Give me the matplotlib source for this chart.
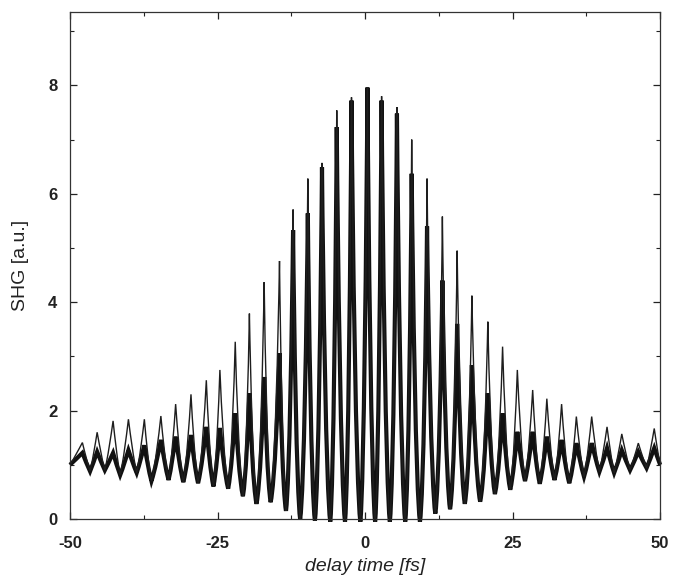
import numpy as np
import matplotlib
matplotlib.use("Agg")
import matplotlib.pyplot as plt
from matplotlib.path import Path
from matplotlib.patches import PathPatch
from matplotlib.ticker import MultipleLocator

plt.rcParams['font.family'] = ['Liberation Sans', 'DejaVu Sans']
plt.rcParams['axes.unicode_minus'] = False

# Fringe maxima (delay in fs) for the two recorded scans
peak_delay = [-47.9, -45.4, -42.7, -40.1, -37.4, -34.6, -32.1, -29.5, -26.9, -24.6,
              -22.0, -19.6, -17.1, -14.5, -12.2, -9.7, -7.3, -4.8, -2.3, 0.4,
              2.8, 5.4, 7.9, 10.5, 13.1, 15.6, 18.1, 20.8, 23.3, 25.8,
              28.4, 30.8, 33.3, 35.8, 38.4, 41.0, 43.5, 46.3, 49.0]
peak_thin = [1.41, 1.60, 1.81, 1.84, 1.84, 1.90, 2.12, 2.30, 2.56, 2.75,
             3.27, 3.79, 4.37, 4.76, 5.71, 6.28, 6.57, 7.54, 7.78, 7.97,
             7.80, 7.60, 7.00, 6.28, 5.58, 4.95, 4.12, 3.64, 3.18, 2.75,
             2.38, 2.22, 2.12, 1.89, 1.89, 1.70, 1.57, 1.40, 1.67]
peak_thick = [1.22, 1.24, 1.22, 1.27, 1.36, 1.46, 1.52, 1.55, 1.70, 1.68,
              1.95, 2.32, 2.62, 3.06, 5.33, 5.64, 6.49, 7.23, 7.72, 7.96,
              7.72, 7.48, 6.37, 5.40, 4.40, 3.60, 2.84, 2.32, 1.95, 1.61,
              1.61, 1.52, 1.46, 1.40, 1.40, 1.31, 1.27, 1.24, 1.31]

# Fringe minima, including the values at both ends of the scan
trough_delay = [-50.0, -46.6, -44.1, -41.5, -38.7, -36.2, -33.3, -30.8, -28.3, -25.7,
                -23.2, -20.7, -18.4, -16.0, -13.4, -11.0, -8.5, -5.9, -3.4, -0.8,
                1.7, 4.2, 6.8, 9.3, 11.9, 14.4, 16.9, 19.5, 22.0, 24.6,
                27.1, 29.6, 32.1, 34.6, 37.1, 39.7, 42.2, 44.9, 47.7, 50.0]
trough_val = [1.00, 0.88, 0.90, 0.81, 0.85, 0.70, 0.72, 0.68, 0.66, 0.60,
              0.56, 0.42, 0.28, 0.31, 0.15, 0.00, -0.03, -0.05, -0.05, -0.05,
              -0.05, -0.05, -0.05, -0.05, 0.10, 0.18, 0.28, 0.32, 0.46, 0.54,
              0.70, 0.65, 0.72, 0.66, 0.78, 0.87, 0.85, 0.90, 0.94, 1.00]

x_ticks = [-50, -25, 0, 25, 50]
y_ticks = [0, 2, 4, 6, 8]


def fringe_path(peaks):
    """Curve through alternating minima and maxima.

    Every half fringe is one cubic Bezier segment.  Shallow fringes stay
    triangular; deep ones bow slightly so the crest is slimmer.
    """
    verts = [(trough_delay[0], trough_val[0])]
    codes = [Path.MOVETO]
    for i, (xp, yp) in enumerate(zip(peak_delay, peaks)):
        for (xa, ya), (xb, yb) in (((trough_delay[i], trough_val[i]), (xp, yp)),
                                   ((xp, yp), (trough_delay[i + 1], trough_val[i + 1]))):
            low = min(ya, yb)
            d2 = float(np.clip((yp - max(low, 0.0)) / yp, 0.0, 1.0)) ** 2
            # control points in (along-x, along-y) fractions, measured from the floor
            f = (1 / 3 + 0.15 * d2, 1 / 3 - 0.25 * d2)
            c = (2 / 3 + 0.20 * d2, 2 / 3)
            if yb > ya:
                dx, dy = xb - xa, yb - ya
                c1 = (xa + f[0] * dx, ya + f[1] * dy)
                c2 = (xa + c[0] * dx, ya + c[1] * dy)
            else:
                dx, dy = xb - xa, ya - yb
                c1 = (xb - c[0] * dx, yb + c[1] * dy)
                c2 = (xb - f[0] * dx, yb + f[1] * dy)
            verts += [c1, c2, (xb, yb)]
            codes += [Path.CURVE4] * 3
    return Path(verts, codes)


fig = plt.figure(figsize=(6.75, 5.81), dpi=100)
ax = fig.add_axes([0.1037, 0.1067, 0.8743, 0.8723])

ax.add_patch(PathPatch(fringe_path(peak_thick), fill=False, edgecolor='#111111',
                       lw=3.0, clip_on=False, zorder=2))
ax.add_patch(PathPatch(fringe_path(peak_thin), fill=False, edgecolor='#1e1e1e',
                       lw=1.0, clip_on=False, zorder=3))

ax.set_xlim(-50, 50)
ax.set_ylim(0, 9.35)
ax.set_xticks(x_ticks)
ax.set_yticks(y_ticks)
ax.xaxis.set_minor_locator(MultipleLocator(12.5))
ax.yaxis.set_minor_locator(MultipleLocator(1))
ax.tick_params(which='both', direction='in', top=True, right=True,
               labelsize=12, colors='#222222')
ax.tick_params(axis='x', which='major', length=5, width=0.9, pad=12)
ax.tick_params(axis='y', which='major', length=5, width=0.9, pad=9)
ax.tick_params(which='minor', length=3, width=0.8)
for lab in ax.get_xticklabels() + ax.get_yticklabels():
    lab.set_fontweight('bold')
for sp in ax.spines.values():
    sp.set_linewidth(0.9)
    sp.set_color('#333333')

ax.set_xlabel('delay time [fs]', fontsize=14, style='italic', color='#222222', labelpad=5)
ax.set_ylabel('SHG [a.u.]', fontsize=14, color='#222222', labelpad=14)

fig.savefig('out.png', dpi=100, facecolor='white')
